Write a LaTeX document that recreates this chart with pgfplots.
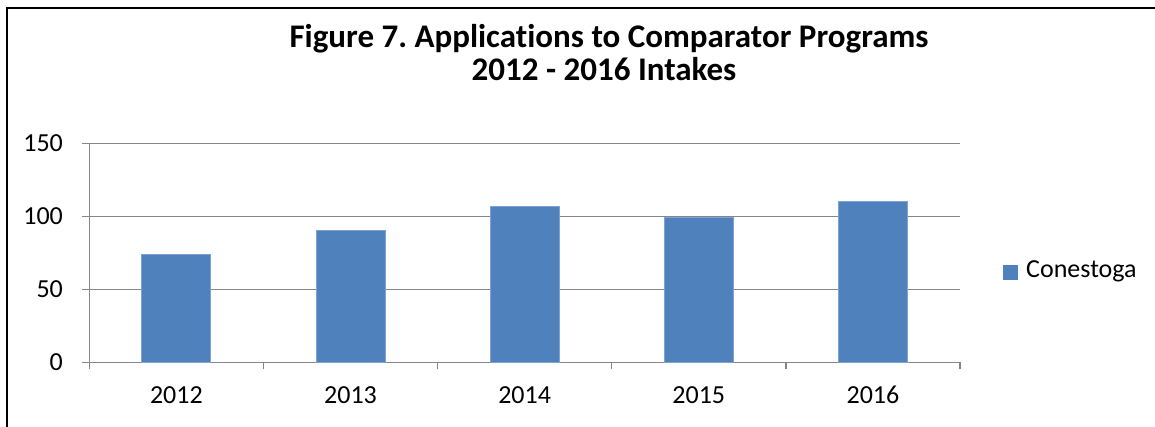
\documentclass[border=0pt]{standalone}
\usepackage{pgfplots}
\pgfplotsset{compat=1.18}
\usepackage{fontspec}
\setmainfont{Carlito}[Ligatures={NoCommon}]
\frenchspacing
\definecolor{barblue}{HTML}{4F81BD}
\definecolor{baredge}{HTML}{7EA2D2}
\definecolor{gridgray}{HTML}{868686}

\begin{document}
\begin{tikzpicture}
    \path[use as bounding box] (0,0) rectangle (577.5pt,213.5pt);
    % frame (only left and top visible)
    \draw[line width=1pt] (3.5pt,0) -- (3.5pt,209.6pt) -- (577.5pt,209.6pt);

    % title
    \node[anchor=base, inner sep=0pt, font=\bfseries\fontsize{16.5}{18}\selectfont] at (304.5pt,189.5pt) {Figure 7. Applications to Comparator Programs};
    \node[anchor=base, inner sep=0pt, font=\bfseries\fontsize{16.5}{18}\selectfont] at (302pt,173pt) {2012 - 2016 Intakes};

    \begin{axis}[
        at={(44.65pt,32.35pt)}, anchor=south west,
        scale only axis,
        width=435.35pt, height=109.5pt,
        ybar, bar width=34.5pt,
        xmin=-0.5, xmax=4.5,
        ymin=0, ymax=150,
        xtick={0,1,2,3,4},
        xticklabels={2012,2013,2014,2015,2016},
        minor xtick={-0.5,0.5,1.5,2.5,3.5,4.5},
        ytick={0,50,100,150},
        axis x line*=bottom, axis y line*=left,
        axis line style={gridgray, line width=0.75pt, -},
        ymajorgrids,
        major grid style={gridgray, line width=0.75pt},
        tick align=outside,
        major x tick style={draw=none},
        major y tick style={gridgray, line width=0.75pt},
        minor x tick style={gridgray, line width=0.75pt},
        major tick length=3.5pt, minor tick length=3.5pt,
        tick label style={font=\fontsize{13}{15}\selectfont, inner sep=0pt},
        /pgf/number format/assume math mode=true,
        xticklabel style={anchor=base, yshift=-17pt},
        yticklabel style={anchor=east, xshift=-9.5pt},
        legend style={at={(axis description cs:1,0.5)}, anchor=west,
            xshift=21.5pt, yshift=-9pt, draw=none, fill=none,
            inner sep=0pt, font=\fontsize{13}{15}\selectfont,
            nodes={inner sep=0pt, anchor=base west}},
        legend cell align=left,
        legend image code/.code={\fill[barblue] (0pt,-1pt) rectangle (7pt,6pt);},
        every axis legend/.append style={column sep=4pt},
    ]
    \addplot[fill=barblue, draw=baredge, line width=0.4pt]
        coordinates {(0,74) (1,90) (2,107) (3,99) (4,110)};
    \addlegendentry{Conestoga}
    \end{axis}
\end{tikzpicture}
\end{document}
